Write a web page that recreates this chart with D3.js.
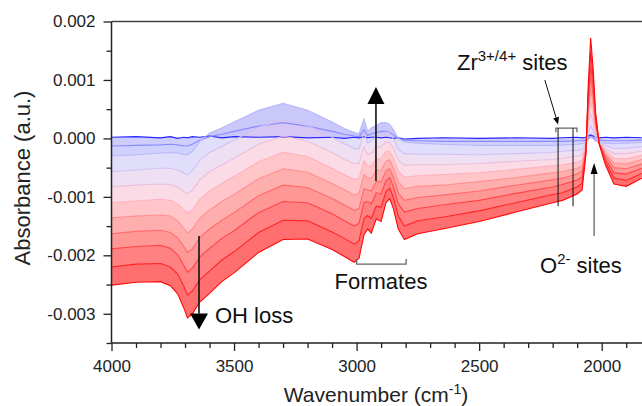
<!DOCTYPE html>
<html>
<head>
<meta charset="utf-8">
<script src="https://cdn.jsdelivr.net/npm/d3@7"></script>
<style>
  body { margin: 0; background: #fff; }
  svg { display: block; font-family: Arial, "Liberation Sans", sans-serif; }
</style>
</head>
<body>
<svg id="chart" width="642" height="406"></svg>
<script>
// Wavenumber grid (cm-1) shared by every spectrum
const wavenumbers = [4000, 3900, 3800, 3760, 3730, 3705, 3690, 3670, 3640, 3600,
  3550, 3500, 3400, 3300, 3200, 3100, 3050, 3010, 2990, 2970,
  2955, 2940, 2920, 2900, 2880, 2865, 2850, 2830, 2805, 2750,
  2650, 2500, 2350, 2200, 2160, 2100, 2080, 2065, 2055, 2045,
  2035, 2025, 2010, 1985, 1950, 1900, 1836];

// Absorbance values in units of 0.001 a.u., first (blue) to last (red) spectrum
const spectrum0 = [0.02, 0.03, 0.01, 0.03, 0.00, 0.02, 0.01, 0.03, 0.02, 0.04,
  0.01, 0.03, 0.02, 0.03, 0.01, 0.02, 0.00, 0.02, 0.01, 0.03,
  0.01, 0.02, 0.02, 0.01, 0.02, 0.01, 0.00, 0.01, -0.01, 0.00,
  0.01, 0.00, 0.01, 0.00, 0.01, 0.02, 0.01, 0.02, 0.04, 0.06,
  0.04, 0.02, 0.01, 0.02, 0.01, 0.02, 0.01];
const spectrum1 = [-0.13, -0.12, -0.11, -0.10, -0.11, -0.13, -0.13, -0.10, -0.03, 0.03,
  0.07, 0.12, 0.21, 0.27, 0.21, 0.12, 0.07, 0.04, 0.03, 0.15,
  0.05, 0.08, 0.10, 0.12, 0.12, 0.10, 0.06, 0.00, -0.03, -0.04,
  -0.05, -0.05, -0.05, -0.05, -0.05, -0.04, -0.04, -0.03, 0.00, 0.03,
  0.01, -0.02, -0.03, -0.04, -0.04, -0.04, -0.03];
const spectrum2 = [-0.30, -0.28, -0.25, -0.24, -0.25, -0.28, -0.28, -0.22, -0.05, 0.09,
  0.18, 0.28, 0.48, 0.60, 0.48, 0.28, 0.17, 0.10, 0.08, 0.33,
  0.12, 0.18, 0.22, 0.27, 0.27, 0.24, 0.15, 0.00, -0.06, -0.08,
  -0.10, -0.12, -0.12, -0.12, -0.11, -0.10, -0.09, -0.07, -0.02, 0.02,
  0.00, -0.05, -0.07, -0.08, -0.09, -0.08, -0.07];
const spectrum3 = [-0.57, -0.54, -0.51, -0.51, -0.54, -0.59, -0.62, -0.55, -0.38, -0.24,
  -0.14, -0.03, 0.19, 0.32, 0.22, 0.02, -0.09, -0.17, -0.18, 0.09,
  -0.08, -0.04, 0.03, 0.07, 0.11, 0.09, -0.01, -0.19, -0.26, -0.27,
  -0.27, -0.28, -0.26, -0.24, -0.22, -0.20, -0.19, -0.10, 0.09, 0.22,
  0.14, 0.01, -0.07, -0.12, -0.17, -0.17, -0.14];
const spectrum4 = [-0.83, -0.80, -0.78, -0.79, -0.83, -0.91, -0.95, -0.89, -0.71, -0.57,
  -0.45, -0.34, -0.10, 0.04, -0.05, -0.24, -0.36, -0.43, -0.43, -0.15,
  -0.28, -0.25, -0.16, -0.14, -0.06, -0.07, -0.17, -0.37, -0.46, -0.45,
  -0.45, -0.43, -0.39, -0.36, -0.34, -0.30, -0.28, -0.13, 0.20, 0.43,
  0.29, 0.07, -0.08, -0.17, -0.26, -0.26, -0.22];
const spectrum5 = [-1.10, -1.07, -1.04, -1.06, -1.12, -1.22, -1.28, -1.22, -1.04, -0.90,
  -0.77, -0.65, -0.40, -0.24, -0.31, -0.51, -0.62, -0.70, -0.69, -0.38,
  -0.48, -0.47, -0.36, -0.34, -0.22, -0.22, -0.34, -0.56, -0.66, -0.64,
  -0.62, -0.59, -0.53, -0.47, -0.45, -0.41, -0.37, -0.15, 0.31, 0.63,
  0.43, 0.13, -0.08, -0.21, -0.34, -0.35, -0.29];
const spectrum6 = [-1.36, -1.33, -1.31, -1.33, -1.41, -1.54, -1.62, -1.55, -1.37, -1.23,
  -1.08, -0.96, -0.69, -0.52, -0.58, -0.77, -0.88, -0.97, -0.94, -0.62,
  -0.68, -0.68, -0.55, -0.54, -0.39, -0.37, -0.50, -0.74, -0.86, -0.82,
  -0.80, -0.74, -0.67, -0.59, -0.57, -0.51, -0.47, -0.18, 0.42, 0.84,
  0.58, 0.19, -0.08, -0.26, -0.42, -0.44, -0.36];
const spectrum7 = [-1.63, -1.59, -1.57, -1.61, -1.70, -1.85, -1.95, -1.89, -1.70, -1.55,
  -1.40, -1.27, -0.98, -0.80, -0.84, -1.03, -1.14, -1.23, -1.20, -0.86,
  -0.88, -0.90, -0.74, -0.74, -0.55, -0.52, -0.66, -0.93, -1.06, -1.01,
  -0.97, -0.90, -0.80, -0.71, -0.68, -0.61, -0.56, -0.21, 0.53, 1.04,
  0.72, 0.25, -0.09, -0.30, -0.50, -0.52, -0.44];
const spectrum8 = [-1.89, -1.85, -1.83, -1.88, -1.99, -2.17, -2.29, -2.22, -2.03, -1.88,
  -1.71, -1.58, -1.27, -1.08, -1.10, -1.29, -1.41, -1.50, -1.45, -1.10,
  -1.08, -1.12, -0.93, -0.95, -0.72, -0.67, -0.82, -1.12, -1.26, -1.20,
  -1.14, -1.06, -0.94, -0.83, -0.79, -0.71, -0.66, -0.24, 0.64, 1.24,
  0.86, 0.31, -0.09, -0.35, -0.59, -0.61, -0.51];
const spectrum9 = [-2.20, -2.15, -2.14, -2.20, -2.32, -2.53, -2.68, -2.61, -2.42, -2.27,
  -2.08, -1.94, -1.61, -1.40, -1.41, -1.60, -1.71, -1.81, -1.75, -1.37,
  -1.32, -1.37, -1.16, -1.18, -0.91, -0.85, -1.01, -1.33, -1.50, -1.41,
  -1.35, -1.24, -1.10, -0.96, -0.93, -0.83, -0.77, -0.27, 0.77, 1.48,
  1.03, 0.38, -0.10, -0.40, -0.68, -0.72, -0.60];
const spectrum10 = [-2.51, -2.46, -2.45, -2.52, -2.66, -2.90, -3.07, -3.00, -2.80, -2.65,
  -2.45, -2.30, -1.95, -1.73, -1.72, -1.90, -2.02, -2.12, -2.05, -1.65,
  -1.55, -1.62, -1.38, -1.42, -1.10, -1.03, -1.20, -1.55, -1.73, -1.63,
  -1.55, -1.42, -1.26, -1.10, -1.06, -0.95, -0.88, -0.30, 0.90, 1.72,
  1.20, 0.45, -0.10, -0.45, -0.78, -0.82, -0.68];

const spectra = [spectrum0, spectrum1, spectrum2, spectrum3, spectrum4, spectrum5,
  spectrum6, spectrum7, spectrum8, spectrum9, spectrum10];
const spectrumColors = ["#2424ff", "#8a8aff", "#b8b8fb", "#cfc2f3", "#ebbedc", "#ffb2bd",
  "#ff9090", "#ff6a6a", "#ff4444", "#ff2424", "#ff0808"];

const xTicks = [4000, 3500, 3000, 2500, 2000];
const yTicks = [-3, -2, -1, 0, 1, 2];
const yTickLabels = ["-0.003", "-0.002", "-0.001", "0.000", "0.001", "0.002"];

const svg = d3.select("#chart");
const plotLeft = 111.5, plotTop = 21.5, plotBottom = 343;

const x = d3.scaleLinear().domain([4000, 1800]).range([plotLeft, plotLeft + 2200 * 0.2451]);
const y = d3.scaleLinear().domain([-3.5, 2]).range([plotBottom, plotTop]);

svg.append("defs").append("clipPath").attr("id", "plot-clip")
  .append("rect").attr("x", plotLeft).attr("y", plotTop)
  .attr("width", 642 - plotLeft).attr("height", plotBottom - plotTop);

const plot = svg.append("g").attr("clip-path", "url(#plot-clip)");

// pale fill between neighbouring spectra, gives the dense look of many traces
const band = d3.area()
  .x((d, i) => x(wavenumbers[i]))
  .y0(d => y(d[0]))
  .y1(d => y(d[1]));

for (let k = 0; k < spectra.length - 1; k++) {
  const pairs = spectra[k].map((v, i) => [v, spectra[k + 1][i]]);
  plot.append("path")
    .datum(pairs)
    .attr("d", band)
    .attr("fill", d3.interpolateRgb(spectrumColors[k], spectrumColors[k + 1])(k === 0 ? 0.85 : 0.5))
    .attr("fill-opacity", k === 0 ? 0.38 : k < 5 ? 0.5 : 0.62);
}

const line = d3.line()
  .x((d, i) => x(wavenumbers[i]))
  .y(d => y(d));

plot.selectAll(".spectrum")
  .data(spectra)
  .enter().append("path")
  .attr("class", "spectrum")
  .attr("d", line)
  .attr("fill", "none")
  .attr("stroke", (d, i) => spectrumColors[i])
  .attr("stroke-width", 1.1);

// axes
const axisColor = "#222";
const minorX = d3.range(4000, 1799, -100).filter(v => !xTicks.includes(v));
const minorY = d3.range(-3.5, 2.01, 1);

svg.append("g")
  .attr("transform", `translate(0,${plotBottom})`)
  .call(d3.axisBottom(x).tickValues(minorX).tickSize(5).tickFormat(""))
  .call(g => g.select(".domain").remove());

const xAxis = svg.append("g")
  .attr("transform", `translate(0,${plotBottom})`)
  .call(d3.axisBottom(x).tickValues(xTicks).tickSize(8).tickPadding(9).tickFormat(d3.format("d")))
  .call(g => g.select(".domain").remove());
xAxis.selectAll("text").attr("font-size", 17).attr("fill", axisColor);

svg.append("g")
  .attr("transform", `translate(${plotLeft},0)`)
  .call(d3.axisLeft(y).tickValues(minorY).tickSize(5).tickFormat(""))
  .call(g => g.select(".domain").remove());

const yAxis = svg.append("g")
  .attr("transform", `translate(${plotLeft},0)`)
  .call(d3.axisLeft(y).tickValues(yTicks).tickSize(8).tickPadding(8).tickFormat((d, i) => yTickLabels[i]))
  .call(g => g.select(".domain").remove());
yAxis.selectAll("text").attr("font-size", 17).attr("fill", axisColor);

svg.selectAll(".tick line").attr("stroke", axisColor).attr("stroke-width", 1.3);

// frame: left, bottom and top
svg.append("line").attr("x1", plotLeft).attr("x2", plotLeft).attr("y1", plotTop).attr("y2", plotBottom)
  .attr("stroke", axisColor).attr("stroke-width", 1.5);
svg.append("line").attr("x1", plotLeft).attr("x2", 642).attr("y1", plotBottom).attr("y2", plotBottom)
  .attr("stroke", axisColor).attr("stroke-width", 1.5);
svg.append("line").attr("x1", plotLeft).attr("x2", 642).attr("y1", plotTop).attr("y2", plotTop)
  .attr("stroke", "#444").attr("stroke-width", 1.5);

// axis titles
svg.append("text")
  .attr("transform", "translate(30,178) rotate(-90)")
  .attr("text-anchor", "middle")
  .attr("font-size", 22)
  .attr("fill", axisColor)
  .text("Absorbance (a.u.)");

const xTitle = svg.append("text")
  .attr("x", 376).attr("y", 402)
  .attr("text-anchor", "middle")
  .attr("font-size", 21)
  .attr("fill", axisColor);
xTitle.append("tspan").text("Wavenumber (cm");
xTitle.append("tspan").attr("font-size", 14).attr("dy", -8).text("-1");
xTitle.append("tspan").attr("dy", 8).text(")");

// annotations
function bigArrow(w, vFrom, vTip, headLen, headW) {
  const px = x(w), y0 = y(vFrom), y1 = y(vTip);
  const dir = y1 > y0 ? 1 : -1;
  svg.append("line").attr("x1", px).attr("x2", px).attr("y1", y0).attr("y2", y1 - dir * headLen)
    .attr("stroke", "#111").attr("stroke-width", 1.6);
  svg.append("path")
    .attr("d", `M${px},${y1} L${px - headW / 2},${y1 - dir * headLen} L${px + headW / 2},${y1 - dir * headLen} Z`)
    .attr("fill", "#000");
}

bigArrow(3643, -1.67, -3.27, 16, 18);   // OH loss
bigArrow(2921, -0.73, 0.88, 17, 17);    // formates growing

svg.append("text").attr("x", 215).attr("y", 323).attr("font-size", 22).attr("fill", "#111").text("OH loss");

// formates bracket
const fb = { w0: 3000, w1: 2798, v: -2.15 };
svg.append("path")
  .attr("d", `M${x(fb.w0)},${y(fb.v) - 5} V${y(fb.v)} H${x(fb.w1)} V${y(fb.v) - 5}`)
  .attr("fill", "none").attr("stroke", "#666").attr("stroke-width", 1.3);
svg.append("text").attr("x", 381).attr("y", 289).attr("text-anchor", "middle")
  .attr("font-size", 22).attr("fill", "#111").text("Formates");

// Zr sites bracket, lines and arrow
const zb = { w0: 2187, w1: 2101, v: 0.175 };
svg.append("path")
  .attr("d", `M${x(zb.w0)},${y(zb.v) + 4} V${y(zb.v)} H${x(zb.w1)} V${y(zb.v) + 4}`)
  .attr("fill", "none").attr("stroke", "#666").attr("stroke-width", 1.3);
[2178, 2117].forEach(w => {
  svg.append("line").attr("x1", x(w)).attr("x2", x(w)).attr("y1", y(zb.v)).attr("y2", y(-1.16))
    .attr("stroke", "#111").attr("stroke-width", 1);
});
{
  const ax0 = x(2232), ay0 = y(1.0), ax1 = x(2178), ay1 = y(0.24);
  const ang = Math.atan2(ay1 - ay0, ax1 - ax0);
  const hl = 7, hw = 3;
  const bx = ax1 - hl * Math.cos(ang), by = ay1 - hl * Math.sin(ang);
  svg.append("line").attr("x1", ax0).attr("y1", ay0).attr("x2", bx).attr("y2", by)
    .attr("stroke", "#111").attr("stroke-width", 1);
  svg.append("path")
    .attr("d", `M${ax1},${ay1} L${bx + hw * Math.sin(ang)},${by - hw * Math.cos(ang)} L${bx - hw * Math.sin(ang)},${by + hw * Math.cos(ang)} Z`)
    .attr("fill", "#000");
}
const zrText = svg.append("text").attr("x", 457).attr("y", 70).attr("font-size", 22).attr("fill", "#111");
zrText.append("tspan").text("Zr");
zrText.append("tspan").attr("font-size", 15).attr("dy", -9).text("3+/4+");
zrText.append("tspan").attr("dy", 9).text(" sites");

// O2- sites arrow
{
  const px = x(2031), y0 = y(-1.67), y1 = y(-0.42);
  svg.append("line").attr("x1", px).attr("x2", px).attr("y1", y0).attr("y2", y1 + 10)
    .attr("stroke", "#666").attr("stroke-width", 1.3);
  svg.append("path").attr("d", `M${px},${y1} L${px - 3.5},${y1 + 11} L${px + 3.5},${y1 + 11} Z`).attr("fill", "#000");
}
const oText = svg.append("text").attr("x", 540).attr("y", 273).attr("font-size", 22).attr("fill", "#111");
oText.append("tspan").text("O");
oText.append("tspan").attr("font-size", 15).attr("dy", -9).text("2-");
oText.append("tspan").attr("dy", 9).text(" sites");
</script>
</body>
</html>
